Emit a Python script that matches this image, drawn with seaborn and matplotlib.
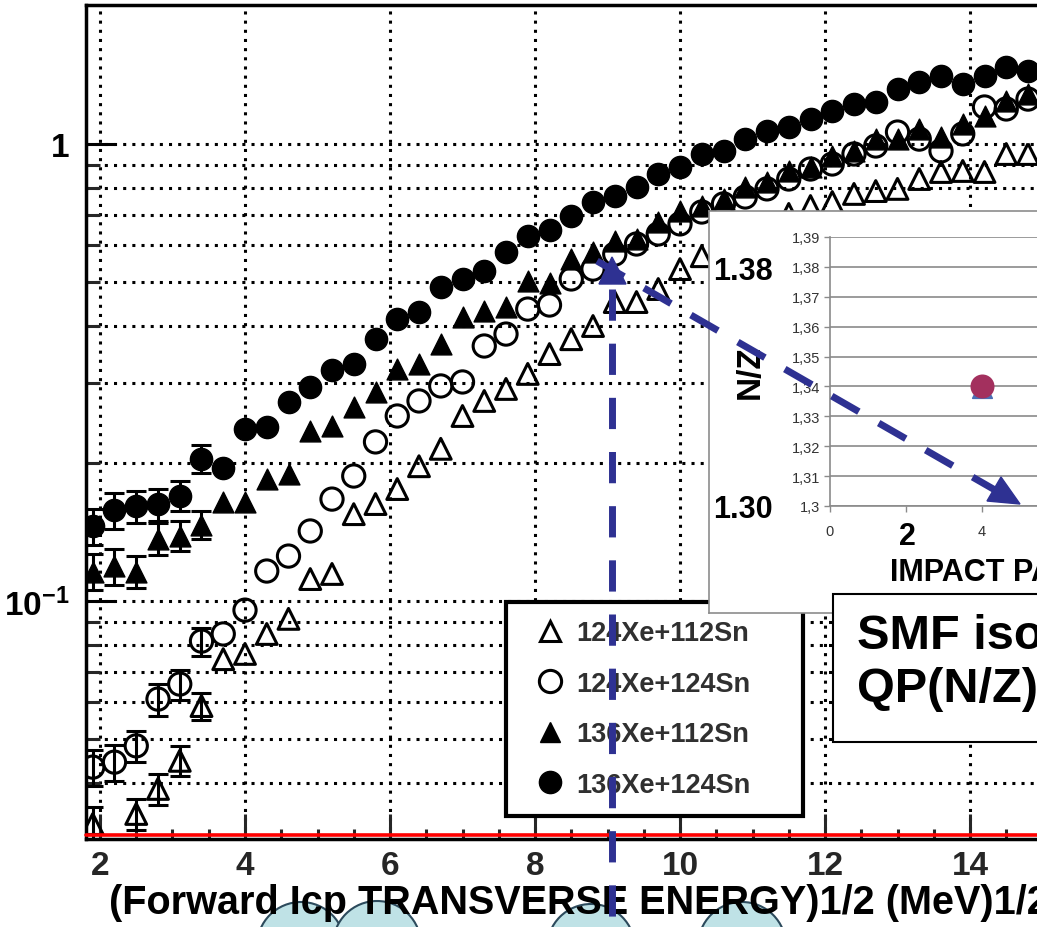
import numpy as np
import matplotlib
matplotlib.use("Agg")
import matplotlib.pyplot as plt
import seaborn as sns
from matplotlib.lines import Line2D
from matplotlib.patches import Rectangle, Ellipse, Polygon
from matplotlib.ticker import FixedLocator, NullFormatter

# ---------------- data ----------------
x_vals = [1.9, 2.2, 2.5, 2.8, 3.1, 3.4, 3.7, 4.0, 4.3, 4.6, 4.9, 5.2, 5.5, 5.8, 6.1,
          6.4, 6.7, 7.0, 7.3, 7.6, 7.9, 8.2, 8.5, 8.8, 9.1, 9.4, 9.7, 10.0, 10.3, 10.6,
          10.9, 11.2, 11.5, 11.8, 12.1, 12.4, 12.7, 13.0, 13.3, 13.6, 13.9, 14.2, 14.5, 14.8]

xe124_sn112 = [0.0325, np.nan, 0.0342, 0.0388, 0.0447, 0.0589, 0.0746, 0.0766, 0.0847, 0.0914,
               0.1117, 0.1146, 0.1549, 0.1630, 0.1758, 0.1972, 0.2153, 0.2540, 0.2740, 0.2911,
               0.3140, 0.3470, 0.3740, 0.3997, 0.4510, 0.4510, 0.4816, 0.5325, 0.5682, 0.6042,
               0.6356, 0.6686, 0.7030, 0.7316, 0.7465, 0.7776, 0.7889, 0.7976, 0.8383, 0.8685,
               0.8730, 0.8685, 0.9509, 0.9509]
xe124_sn124 = [0.0433, 0.0444, 0.0482, 0.0610, 0.0658, 0.0817, 0.0847, 0.0955, 0.1163, 0.1254,
               0.1423, 0.1671, 0.1877, 0.2229, 0.2540, 0.2740, 0.2955, 0.3015, 0.3614, 0.3838,
               0.4353, 0.4443, 0.5066, 0.5325, 0.5743, 0.6042, 0.6356, 0.6686, 0.7099, 0.7394,
               0.7657, 0.7976, 0.8383, 0.8816, 0.9042, 0.9509, 0.990, 1.062, 1.025, 0.966,
               1.052, 1.205, 1.193, 1.254]
xe136_sn112 = [0.116, 0.119, 0.116, 0.137, 0.139, 0.147, 0.165, 0.165, 0.185, 0.190,
               0.236, 0.242, 0.266, 0.287, 0.322, 0.330, 0.365, 0.418, 0.431, 0.440,
               0.501, 0.496, 0.560, 0.580, 0.614, 0.620, 0.675, 0.713, 0.732, 0.758,
               0.805, 0.826, 0.873, 0.891, 0.941, 0.966, 1.025, 1.025, 1.079, 1.036,
               1.106, 1.151, 1.242, 1.286]
xe136_sn124 = [0.146, 0.158, 0.161, 0.163, 0.170, 0.205, 0.195, 0.238, 0.240, 0.272,
               0.294, 0.320, 0.330, 0.374, 0.414, 0.429, 0.486, 0.507, 0.527, 0.580,
               0.629, 0.648, 0.696, 0.747, 0.769, 0.805, 0.860, 0.891, 0.951, 0.966,
               1.025, 1.068, 1.089, 1.134, 1.181, 1.223, 1.236, 1.319, 1.367, 1.409,
               1.353, 1.409, 1.474, 1.445]
# relative statistical errors (only the low-statistics first bins are visible)
rel_err = [0.09, 0.09, 0.08, 0.08, 0.075, 0.07]
series_labels = ["124Xe+112Sn", "124Xe+124Sn", "136Xe+112Sn", "136Xe+124Sn"]

x_major_ticks = [2, 4, 6, 8, 10, 12, 14, 16]
x_minor_ticks = [2.5, 3, 3.5, 4.5, 5, 5.5, 6.5, 7, 7.5, 8.5, 9, 9.5, 10.5, 11, 11.5,
                 12.5, 13, 13.5, 14.5, 15, 15.5]
y_major_ticks = [0.1, 1]
y_major_labels = [r"$\mathbf{10^{-1}}$", "1"]
y_minor_ticks = [0.04, 0.05, 0.06, 0.07, 0.08, 0.09, 0.2, 0.3, 0.4, 0.5, 0.6, 0.7, 0.8, 0.9]

# inset (N/Z vs impact parameter)
inset_b = [4]
inset_nz_tri = [1.3395]
inset_nz_circ = [1.34]
inset_yticks = [1.30, 1.31, 1.32, 1.33, 1.34, 1.35, 1.36, 1.37, 1.38, 1.39]
inset_ylabels = ["1,3", "1,31", "1,32", "1,33", "1,34", "1,35", "1,36", "1,37", "1,38", "1,39"]
inset_xticks = [0, 2, 4, 6, 8, 10]
inset_xlabels = ["0", "", "4", "6", "8", "10"]

# ---------------- style ----------------
sns.set_theme(style="white")
plt.rcParams["font.family"] = ["Liberation Sans", "DejaVu Sans"]
plt.rcParams["mathtext.fontset"] = "custom"
plt.rcParams["mathtext.rm"] = "Liberation Sans"
plt.rcParams["mathtext.bf"] = "Liberation Sans:bold"

W, H = 1037, 928
fig = plt.figure(figsize=(W / 100, H / 100), dpi=100)
fig.patch.set_facecolor("white")


def fx(x):
    return x / W


def fy(y):
    return 1 - y / H


# main axes geometry (pixels)
left_px, top_px, bot_px = 86, 6, 840
px_per_unit, x2_px = 72.5, 100
xmin = 2 - (x2_px - left_px) / px_per_unit
xmax = 16.0
right_px = x2_px + (xmax - 2) * px_per_unit
ax = fig.add_axes([fx(left_px), fy(bot_px), (right_px - left_px) / W, (bot_px - top_px) / H])
ax.set_facecolor("white")
ax.set_yscale("log")
ax.set_xlim(xmin, xmax)
y_one_px, decade_px = 145, 457
ax.set_ylim(10 ** ((y_one_px - bot_px) / decade_px), 10 ** ((y_one_px - top_px) / decade_px))

# grid
dot = (0, (1, 2))
ax.grid(True, which="both", axis="y", color="black", linestyle=dot, linewidth=2.2)
ax.grid(True, which="major", axis="x", color="black", linestyle=dot, linewidth=2.2)
ax.set_axisbelow(True)

ser = [xe124_sn112, xe124_sn124, xe136_sn112, xe136_sn124]
markers = ["^", "o", "^", "o"]
sizes = [225, 256, 225, 256]
filled = [False, False, True, True]

n_err = len(rel_err)
for vals in ser:
    v = np.array(vals[:n_err], dtype=float)
    ok = ~np.isnan(v)
    ax.errorbar(np.array(x_vals[:n_err])[ok], v[ok], yerr=v[ok] * np.array(rel_err)[ok],
                fmt="none", ecolor="black", elinewidth=2.2, capsize=7, capthick=2.2, zorder=3)

for vals, m, s, f in zip(ser, markers, sizes, filled):
    if f:
        sns.scatterplot(x=x_vals, y=vals, marker=m, s=s, color="black", edgecolor="black",
                        linewidth=1.0, ax=ax, zorder=4)
    else:
        sns.scatterplot(x=x_vals, y=vals, marker=m, s=s, facecolors="none", edgecolor="black",
                        linewidth=2.2, ax=ax, zorder=4)

# ticks
ax.xaxis.set_major_locator(FixedLocator(x_major_ticks))
ax.set_xticklabels([str(t) for t in x_major_ticks])
ax.xaxis.set_minor_locator(FixedLocator(x_minor_ticks))
ax.yaxis.set_major_locator(FixedLocator(y_major_ticks))
ax.set_yticklabels(y_major_labels)
ax.yaxis.set_minor_locator(FixedLocator(y_minor_ticks))
ax.yaxis.set_minor_formatter(NullFormatter())
ax.tick_params(axis="y", which="major", direction="in", length=21, width=2.2, pad=12,
               labelsize=24, colors="black", left=True)
ax.tick_params(axis="y", which="minor", direction="in", length=10, width=2.2, left=True)
ax.tick_params(axis="x", which="major", direction="in", length=18, width=2.2, pad=8,
               labelsize=24, bottom=True)
ax.tick_params(axis="x", which="minor", direction="in", length=7, width=2.2, bottom=True)
for lbl in ax.get_xticklabels() + ax.get_yticklabels():
    lbl.set_fontweight("bold")
for sp in ax.spines.values():
    sp.set_color("black")
    sp.set_linewidth(2.5)
ax.set_xlabel("")
ax.set_ylabel("")

# red baseline
ax.plot([0, 1], [0.0045, 0.0045], transform=ax.transAxes, color="#ff0000", lw=2.6,
        zorder=5, clip_on=False)

# legend
handles = [
    Line2D([], [], marker="^", ms=15, mfc="none", mec="black", mew=2.2, ls="none"),
    Line2D([], [], marker="o", ms=16, mfc="none", mec="black", mew=2.2, ls="none"),
    Line2D([], [], marker="^", ms=15, mfc="black", mec="black", mew=1, ls="none"),
    Line2D([], [], marker="o", ms=16, mfc="black", mec="black", mew=1, ls="none"),
]
leg = ax.legend(handles, series_labels, loc="upper left",
                bbox_to_anchor=(fx(506), fy(815), fx(803) - fx(506), fy(603) - fy(815)),
                bbox_transform=fig.transFigure, mode="expand",
                prop={"weight": "bold", "size": 19.5}, labelcolor="#303030",
                frameon=True, fancybox=False, framealpha=1, edgecolor="black",
                borderpad=0.68, labelspacing=0.9, handlelength=1.9, handletextpad=0.02,
                borderaxespad=0)
leg.get_frame().set_linewidth(3)

# x label
fig.text(fx(109), fy(903), "(Forward Icp TRANSVERSE ENERGY)1/2 (MeV)1/2", ha="left",
         va="center", fontsize=28.5, fontweight="bold", color="black", zorder=6)

# bubbles at the bottom
for cx, cy in [(301, 947), (377, 946), (591, 949), (742, 947)]:
    fig.add_artist(Ellipse((fx(cx), fy(cy)), 88 / W, 88 / H, transform=fig.transFigure,
                           facecolor="#bfe2e6", edgecolor="#2c4a5c", lw=1.5, zorder=1))

# inset panel background
ax_bg = fig.add_axes([fx(709), fy(614), (1250 - 709) / W, (614 - 212) / H], zorder=10)
ax_bg.set_facecolor("white")
ax_bg.set_xticks([])
ax_bg.set_yticks([])
for sp in ax_bg.spines.values():
    sp.set_color("#8c8c8c")
    sp.set_linewidth(1.2)

# inner Excel-like chart
ax_nz = fig.add_axes([fx(830), fy(507), 380 / W, (507 - 238) / H], zorder=11)
ax_nz.patch.set_alpha(0)
ax_nz.set_xlim(0, 10)
ax_nz.set_ylim(1.30, 1.39)
ax_nz.set_yticks(inset_yticks)
ax_nz.set_yticklabels(inset_ylabels)
ax_nz.set_xticks(inset_xticks)
ax_nz.set_xticklabels(inset_xlabels)
ax_nz.grid(True, axis="y", color="#8a8a8a", lw=1.2, linestyle="-")
ax_nz.grid(False, axis="x")
ax_nz.tick_params(axis="both", direction="out", length=4, color="#8a8a8a", width=1,
                  labelsize=10.5, labelcolor="#333333", pad=3, left=True, bottom=True)
ax_nz.tick_params(axis="x", pad=9)
for k in ["top", "right"]:
    ax_nz.spines[k].set_visible(False)
for k in ["left", "bottom"]:
    ax_nz.spines[k].set_color("#8a8a8a")
    ax_nz.spines[k].set_linewidth(1.2)
sns.scatterplot(x=inset_b, y=inset_nz_tri, marker="^", s=200, color="#4a6fb5",
                edgecolor="#4a6fb5", ax=ax_nz, zorder=3, clip_on=False)
sns.scatterplot(x=inset_b, y=inset_nz_circ, marker="o", s=256, color="#a3305e",
                edgecolor="#a3305e", ax=ax_nz, zorder=4, clip_on=False)
ax_nz.set_xlabel("")
ax_nz.set_ylabel("")

# big overlay labels on the inset
big = dict(fontweight="bold", color="black", zorder=15)
fig.text(fx(743), fy(272), "1.38", ha="center", va="center", fontsize=22, **big)
fig.text(fx(743), fy(510), "1.30", ha="center", va="center", fontsize=22, **big)
fig.text(fx(750), fy(372), "N/Z", ha="center", va="center", fontsize=24, rotation=90, **big)
fig.text(fx(907), fy(537), "2", ha="center", va="center", fontsize=22, **big)
fig.text(fx(890), fy(573), "IMPACT PARAMETER (fm)", ha="left", va="center", fontsize=22, **big)

# SMF box
fig.add_artist(Rectangle((fx(833), fy(743)), fx(1200) - fx(833), fy(595) - fy(743),
                         transform=fig.transFigure, facecolor="white", edgecolor="black",
                         lw=1.5, zorder=20))
fig.text(fx(857), fy(637), "SMF isospin", ha="left", va="center", fontsize=35,
         fontweight="bold", color="black", zorder=21)
fig.text(fx(857), fy(690), "QP(N/Z) vs b", ha="left", va="center", fontsize=35,
         fontweight="bold", color="black", zorder=21)

# blue dashed arrows
blue = "#2e3192"
dash = (0, (4.5, 3.3))
fig.add_artist(Line2D([fx(612), fx(612)], [fy(290), fy(940)], transform=fig.transFigure,
                      color=blue, lw=5, linestyle=dash, zorder=30))
fig.add_artist(Polygon([(fx(612), fy(258)), (fx(599), fy(285)), (fx(626), fy(285))],
                       closed=True, transform=fig.transFigure, facecolor=blue,
                       edgecolor=blue, zorder=30))
fig.add_artist(Line2D([fx(597), fx(995)], [fy(262), fy(491)], transform=fig.transFigure,
                      color=blue, lw=5, linestyle=dash, zorder=30))
fig.add_artist(Polygon([(fx(1020), fy(505)), (fx(987), fy(502)), (fx(1001), fy(478))],
                       closed=True, transform=fig.transFigure, facecolor=blue,
                       edgecolor=blue, zorder=30))

fig.savefig("out.png", dpi=100)
